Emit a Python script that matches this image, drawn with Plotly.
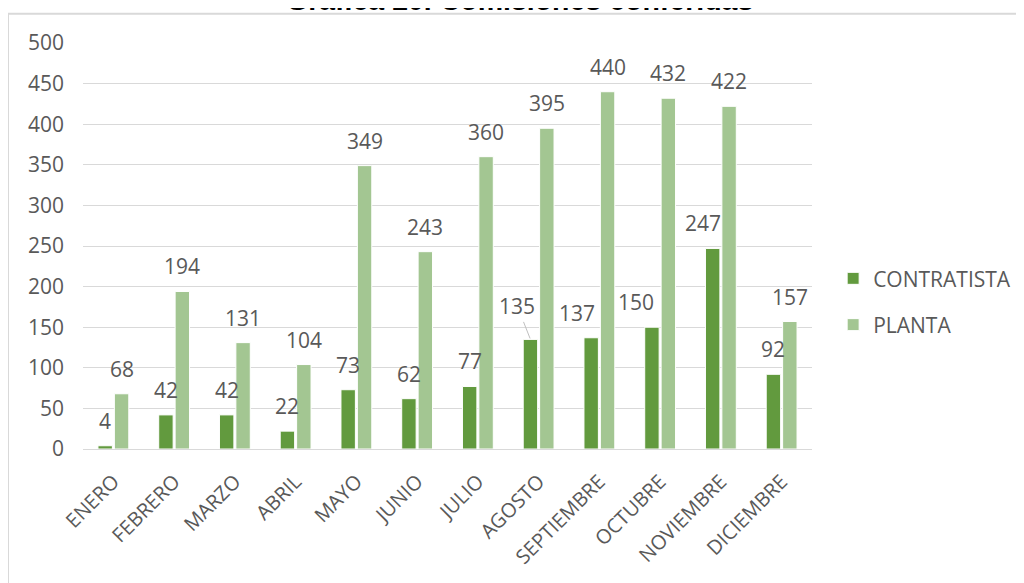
import plotly.graph_objects as go

# datos
meses = ["ENERO", "FEBRERO", "MARZO", "ABRIL", "MAYO", "JUNIO", "JULIO",
         "AGOSTO", "SEPTIEMBRE", "OCTUBRE", "NOVIEMBRE", "DICIEMBRE"]
contratista = [4, 42, 42, 22, 73, 62, 77, 135, 137, 150, 247, 92]
planta = [68, 194, 131, 104, 349, 243, 360, 395, 440, 432, 422, 157]
y_ticks = [0, 50, 100, 150, 200, 250, 300, 350, 400, 450, 500]

titulo = "Gráfica 20. Comisiones conferidas"
gris = "#595959"
fuente = "Open Sans"

series = [
    ("CONTRATISTA", contratista, "#629a3e", -8.2),
    ("PLANTA", planta, "#a3c692", 8.2),
]

# etiquetas que Excel corre a la izquierda para no chocar
ajuste_x = {("CONTRATISTA", "AGOSTO"): -13, ("CONTRATISTA", "SEPTIEMBRE"): -14,
            ("CONTRATISTA", "OCTUBRE"): -16, ("CONTRATISTA", "NOVIEMBRE"): -10}

fig = go.Figure()
anotaciones = []
for i, (nombre, valores, color, dx) in enumerate(series):
    fig.add_trace(go.Bar(
        x=meses, y=valores, name=nombre, legendgroup=nombre,
        marker=dict(color=color, line=dict(color="white", width=1)),
    ))
    for mes, v in zip(meses, valores):
        extra = ajuste_x.get((nombre, mes), 0)
        if (nombre, mes) == ("CONTRATISTA", "AGOSTO"):
            # etiqueta con línea guía
            anotaciones.append(dict(
                x=mes, y=v, xshift=dx, text=str(v), showarrow=True,
                ax=extra, ay=-33, arrowhead=0, arrowwidth=1,
                arrowcolor="#bfbfbf", standoff=1,
                font=dict(family=fuente, size=21, color=gris)))
        else:
            anotaciones.append(dict(
                x=mes, y=v, xshift=dx + extra, yshift=25, text=str(v),
                showarrow=False, yanchor="middle",
                font=dict(family=fuente, size=21, color=gris)))

anotaciones.append(dict(
    xref="paper", yref="paper", x=0.599, y=1.062, yanchor="bottom",
    text="<b>" + titulo + "</b>", showarrow=False,
    font=dict(family="Liberation Sans", size=28.5, color="black")))

fig.update_layout(
    width=1024, height=583,
    margin=dict(l=75, r=220, t=35, b=142),
    paper_bgcolor="white", plot_bgcolor="white",
    barmode="group", bargap=0.46, bargroupgap=0.12,
    font=dict(family=fuente, size=20, color=gris),
    showlegend=True,
    legend=dict(x=1.029, y=0.47, xanchor="left", yanchor="top",
                font=dict(family=fuente, size=21, color=gris),
                tracegroupgap=16, itemwidth=30),
    annotations=anotaciones,
    shapes=[dict(type="rect", xref="paper", yref="paper",
                 x0=-0.1029, y0=-0.6, x1=1.5, y1=1.0718,
                 line=dict(color="#d9d9d9", width=2))],
)
fig.update_xaxes(tickangle=-45, showline=True, linecolor="#d9d9d9",
                 ticks="", showgrid=False, ticklabelstandoff=12,
                 tickfont=dict(family=fuente, size=20, color=gris))
fig.update_yaxes(range=[0, 500], tickvals=y_ticks, showgrid=True,
                 gridcolor="#d9d9d9", zeroline=False, ticks="",
                 ticklabelstandoff=18,
                 tickfont=dict(family=fuente, size=21, color=gris))

fig.write_html("out.html")
